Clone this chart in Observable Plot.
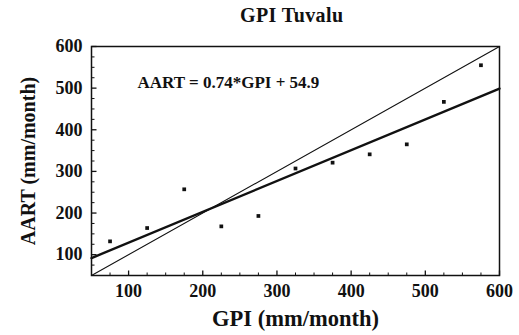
<!DOCTYPE html>
<html>
<head>
<meta charset="utf-8">
<script src="https://cdn.jsdelivr.net/npm/d3@7"></script>
<script src="https://cdn.jsdelivr.net/npm/@observablehq/plot@0.6"></script>
<style>
  html, body { margin: 0; padding: 0; background: #fff; }
  #chart { width: 519px; height: 335px; position: relative; }
  .title { font-family: "Liberation Serif", "Times New Roman", serif; font-weight: bold; font-size: 20px;
           height: 30px; line-height: 30px; width: 519px; text-align: left; padding-left: 240px; box-sizing: border-box; letter-spacing: 0.4px; color: #111; }
  svg { display: block; }
</style>
</head>
<body>
<div id="chart"></div>
<script>
// ---- data ----
const gpi  = [75, 125, 175, 225, 275, 325, 375, 425, 475, 525, 575];
const aart = [132, 164, 257, 168, 193, 307, 321, 341, 365, 467, 555];
const slope = 0.74, intercept = 54.9;
const lineRange = [50, 600];
const majorTicks = [100, 200, 300, 400, 500, 600];
const minorTicks = d3.range(75, 600, 25).filter(v => v % 100 !== 0);
const titleText = "GPI Tuvalu";
const xLabel = "GPI (mm/month)";
const yLabel = "AART (mm/month)";
const equation = "AART = 0.74*GPI + 54.9";

const points = gpi.map((x, i) => ({x, y: aart[i]}));
const fit = lineRange.map(x => ({x, y: slope * x + intercept}));
const oneToOne = lineRange.map(v => ({x: v, y: v}));

const font = '"Liberation Serif", "Times New Roman", serif';
const W = 519, H = 305, mT = 16, mB = 60, mL = 91, mR = 20;
const fw = W - mL - mR, fh = H - mT - mB;
const dom = [50, 600];
// convert a pixel tick length into data units along each axis
const ux = (dom[1] - dom[0]) / fw, uy = (dom[1] - dom[0]) / fh;

const plot = Plot.plot({
  width: W,
  height: H,
  marginTop: mT,
  marginBottom: mB,
  marginLeft: mL,
  marginRight: mR,
  style: {fontFamily: font, fontSize: "18px", fontWeight: "bold", color: "#111", background: "white"},
  x: {domain: dom, label: null},
  y: {domain: dom, label: null},
  marks: [
    // inward tick marks along bottom and left edges
    Plot.link(minorTicks, {x1: d => d, x2: d => d, y1: dom[0], y2: dom[0] + 3 * uy, stroke: "#111", strokeWidth: 1}),
    Plot.link(majorTicks, {x1: d => d, x2: d => d, y1: dom[0], y2: dom[0] + 5 * uy, stroke: "#111", strokeWidth: 1.3}),
    Plot.link(minorTicks, {y1: d => d, y2: d => d, x1: dom[0], x2: dom[0] + 3 * ux, stroke: "#111", strokeWidth: 1}),
    Plot.link(majorTicks, {y1: d => d, y2: d => d, x1: dom[0], x2: dom[0] + 5 * ux, stroke: "#111", strokeWidth: 1.3}),
    Plot.axisX({ticks: majorTicks, tickSize: 0, tickPadding: 9, fontSize: 18}),
    Plot.axisY({ticks: majorTicks, tickSize: 0, tickPadding: 9, fontSize: 18}),
    Plot.line(oneToOne, {x: "x", y: "y", stroke: "#111", strokeWidth: 1.1}),
    Plot.line(fit, {x: "x", y: "y", stroke: "#111", strokeWidth: 2.4}),
    Plot.dot(points, {x: "x", y: "y", symbol: "square", r: 2.1, fill: "#111", stroke: "none"}),
    Plot.text([equation], {x: 112, y: 513, text: d => d, textAnchor: "start", fontSize: 17, fontWeight: "bold", fill: "#111"}),
    Plot.text([xLabel], {frameAnchor: "bottom", dy: 50, text: d => d, textAnchor: "middle", fontSize: 22.5, fontWeight: "bold", fill: "#111"}),
    Plot.text([yLabel], {frameAnchor: "left", dx: -63, rotate: -90, text: d => d, textAnchor: "middle", fontSize: 20, fontWeight: "bold", fill: "#111"}),
    Plot.frame({stroke: "#111", strokeWidth: 1.5})
  ]
});

const title = document.createElement("div");
title.className = "title";
title.textContent = titleText;
const chart = document.getElementById("chart");
chart.appendChild(title);
chart.appendChild(plot);
</script>
</body>
</html>
